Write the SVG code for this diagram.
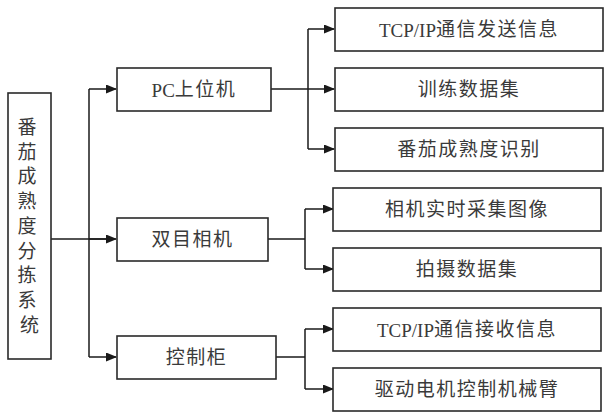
<svg xmlns="http://www.w3.org/2000/svg" width="609" height="412" viewBox="0 0 609 412">
<defs>
<marker id="arr" markerWidth="11" markerHeight="9" refX="10" refY="4.5" orient="auto" markerUnits="userSpaceOnUse">
<path d="M0,0 L11,4.5 L0,9 Z" fill="#1a1a1a"/>
</marker>
<style>
.box{fill:#fff;stroke:#2a2a2a;stroke-width:1.6}
.t{font-family:"Liberation Serif","Noto Sans CJK SC",serif;font-size:19px;fill:#3a3a3a;text-anchor:middle;dominant-baseline:central;letter-spacing:1.5px}
.l{letter-spacing:0}
.c{fill:none;stroke:#1a1a1a;stroke-width:1.5}
</style>
</defs>
<rect width="609" height="412" fill="#fff"/>
<g id="connectors">
<path class="c" d="M51,239 H108"/>
<path class="c" d="M89,89 V357"/>
<path class="c" d="M89,89 H116" marker-end="url(#arr)"/>
<path class="c" d="M89,239 H116" marker-end="url(#arr)"/>
<path class="c" d="M89,357 H116" marker-end="url(#arr)"/>
<path class="c" d="M271,89 H308"/>
<path class="c" d="M308,29 V149"/>
<path class="c" d="M308,29 H334" marker-end="url(#arr)"/>
<path class="c" d="M308,89 H334" marker-end="url(#arr)"/>
<path class="c" d="M308,149 H334" marker-end="url(#arr)"/>
<path class="c" d="M268,239 H305"/>
<path class="c" d="M305,209 V269"/>
<path class="c" d="M305,209 H333" marker-end="url(#arr)"/>
<path class="c" d="M305,269 H333" marker-end="url(#arr)"/>
<path class="c" d="M276,357 H305"/>
<path class="c" d="M305,329 V389"/>
<path class="c" d="M305,329 H333" marker-end="url(#arr)"/>
<path class="c" d="M305,389 H333" marker-end="url(#arr)"/>
</g>
<g id="root">
<rect class="box" x="8" y="93" width="43" height="266"/>
<text class="t" style="letter-spacing:0">
<tspan x="29.5" y="127">番</tspan>
<tspan x="29.5" y="152">茄</tspan>
<tspan x="29.5" y="176">成</tspan>
<tspan x="29.5" y="201">熟</tspan>
<tspan x="29.5" y="226">度</tspan>
<tspan x="29.5" y="251">分</tspan>
<tspan x="29.5" y="275">拣</tspan>
<tspan x="29.5" y="300">系</tspan>
<tspan x="29.5" y="325">统</tspan>
</text>
</g>
<g id="pc">
<rect class="box" x="117" y="68" width="154" height="43"/>
<text class="t" x="194" y="89.5"><tspan class="l">PC</tspan>上位机</text>
</g>
<g id="camera">
<rect class="box" x="117" y="218" width="151" height="43"/>
<text class="t" x="192.5" y="239.5">双目相机</text>
</g>
<g id="cabinet">
<rect class="box" x="117" y="336" width="159" height="43"/>
<text class="t" x="196.5" y="357.5">控制柜</text>
</g>
<g id="tcp-send">
<rect class="box" x="335" y="8" width="268" height="43"/>
<text class="t" x="469" y="29.5"><tspan class="l">TCP/IP</tspan>通信发送信息</text>
</g>
<g id="train">
<rect class="box" x="335" y="68" width="268" height="43"/>
<text class="t" x="469" y="89.5">训练数据集</text>
</g>
<g id="recog">
<rect class="box" x="335" y="128" width="268" height="43"/>
<text class="t" x="469" y="149.5">番茄成熟度识别</text>
</g>
<g id="capture">
<rect class="box" x="333" y="188" width="268" height="43"/>
<text class="t" x="467" y="209.5">相机实时采集图像</text>
</g>
<g id="shoot">
<rect class="box" x="333" y="248" width="268" height="43"/>
<text class="t" x="467" y="269.5">拍摄数据集</text>
</g>
<g id="tcp-recv">
<rect class="box" x="333" y="308" width="268" height="43"/>
<text class="t" x="467" y="329.5"><tspan class="l">TCP/IP</tspan>通信接收信息</text>
</g>
<g id="drive">
<rect class="box" x="333" y="368" width="268" height="43"/>
<text class="t" x="467" y="389.5">驱动电机控制机械臂</text>
</g>
</svg>
